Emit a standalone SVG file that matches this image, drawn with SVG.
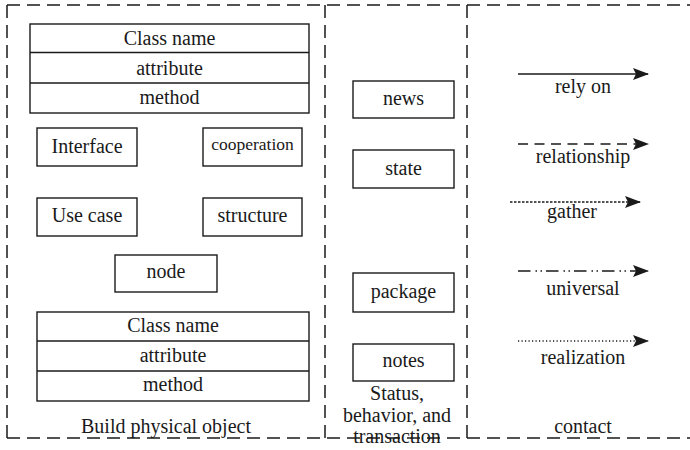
<svg xmlns="http://www.w3.org/2000/svg" width="690" height="450" viewBox="0 0 690 450">
  <style>
    .lbl { font-family: 'Liberation Serif', serif; font-size: 20px; fill: #1a1a1a; text-anchor: middle; }
    .small { font-size: 17.5px; }
    .box { fill: #ffffff; stroke: #1a1a1a; stroke-width: 1.4; }
    .frame { fill: none; stroke: #1a1a1a; stroke-width: 1.5; stroke-dasharray: 13 7; }
    .conn { fill: none; stroke: #1a1a1a; stroke-width: 1.4; }
  </style>
  <defs>
    <marker id="arrow" viewBox="0 0 16 12" refX="15" refY="6" markerWidth="16" markerHeight="12" markerUnits="userSpaceOnUse" orient="auto">
      <path d="M0,0 L16,6 L0,12 L3,6 Z" fill="#1a1a1a"/>
    </marker>
  </defs>

  <rect width="690" height="450" fill="#ffffff"/>

  <!-- frame and column dividers -->
  <g id="frame">
    <line class="frame" x1="7" y1="5" x2="690" y2="5"/>
    <line class="frame" x1="7" y1="438" x2="690" y2="438"/>
    <line class="frame" x1="7" y1="5" x2="7" y2="438"/>
    <line class="frame" x1="325" y1="5" x2="325" y2="438"/>
    <line class="frame" x1="467" y1="5" x2="467" y2="438"/>
  </g>

  <g font-family="Liberation Serif, serif" font-size="20">
  <!-- physical objects column -->
  <g id="class-top">
    <rect class="box" x="30" y="24" width="279" height="89"/>
    <line class="conn" x1="30" y1="52.5" x2="309" y2="52.5"/>
    <line class="conn" x1="30" y1="83" x2="309" y2="83"/>
    <text class="lbl" x="169.5" y="44.5">Class name</text>
    <text class="lbl" x="169.5" y="75">attribute</text>
    <text class="lbl" x="169.5" y="104">method</text>
  </g>
  <g id="interface">
    <rect class="box" x="37" y="128" width="100" height="38"/>
    <text class="lbl" x="87" y="153">Interface</text>
  </g>
  <g id="cooperation">
    <rect class="box" x="203" y="128" width="99" height="38"/>
    <text class="lbl small" x="252.5" y="150">cooperation</text>
  </g>
  <g id="use-case">
    <rect class="box" x="37" y="198" width="100" height="38"/>
    <text class="lbl" x="87" y="222">Use case</text>
  </g>
  <g id="structure">
    <rect class="box" x="203" y="198" width="99" height="38"/>
    <text class="lbl" x="252.5" y="222">structure</text>
  </g>
  <g id="node">
    <rect class="box" x="115" y="255" width="102" height="37"/>
    <text class="lbl" x="166" y="278">node</text>
  </g>
  <g id="class-bottom">
    <rect class="box" x="37" y="312" width="272" height="89"/>
    <line class="conn" x1="37" y1="341" x2="309" y2="341"/>
    <line class="conn" x1="37" y1="371" x2="309" y2="371"/>
    <text class="lbl" x="173" y="332">Class name</text>
    <text class="lbl" x="173" y="362">attribute</text>
    <text class="lbl" x="173" y="391">method</text>
  </g>
  <text class="lbl" x="166" y="433">Build physical object</text>

  <!-- status, behaviour and transaction column -->
  <g id="news">
    <rect class="box" x="353" y="81" width="101" height="37"/>
    <text class="lbl" x="403.5" y="105">news</text>
  </g>
  <g id="state">
    <rect class="box" x="353" y="150" width="101" height="38"/>
    <text class="lbl" x="403.5" y="175">state</text>
  </g>
  <g id="package">
    <rect class="box" x="353" y="273" width="101" height="39"/>
    <text class="lbl" x="403.5" y="298">package</text>
  </g>
  <g id="notes">
    <rect class="box" x="353" y="344" width="101" height="37"/>
    <text class="lbl" x="403.5" y="367">notes</text>
  </g>
  <text class="lbl" x="397" y="400">Status,</text>
  <text class="lbl" x="397" y="422">behavior, and</text>
  <text class="lbl" x="397" y="443">transaction</text>

  <!-- relation kinds column -->
  <g id="connectors">
    <line class="conn" x1="518" y1="74" x2="648" y2="74" marker-end="url(#arrow)"/>
    <line class="conn" x1="518" y1="144" x2="648" y2="144" stroke-dasharray="10 6.5" marker-end="url(#arrow)"/>
    <line class="conn" x1="510" y1="202" x2="640" y2="202" stroke-dasharray="2.5 1.5" marker-end="url(#arrow)"/>
    <line class="conn" x1="518" y1="271" x2="648" y2="271" stroke-dasharray="12.5 5 1.5 3.5 1.5 4" marker-end="url(#arrow)"/>
    <line class="conn" x1="518" y1="341" x2="648" y2="341" stroke-dasharray="1.2 2.3" marker-end="url(#arrow)"/>
  </g>
  <text class="lbl" x="583" y="93">rely on</text>
  <text class="lbl" x="583" y="163">relationship</text>
  <text class="lbl" x="572" y="218">gather</text>
  <text class="lbl" x="583" y="295">universal</text>
  <text class="lbl" x="583" y="364">realization</text>
  <text class="lbl" x="583" y="433">contact</text>
  </g>
</svg>
